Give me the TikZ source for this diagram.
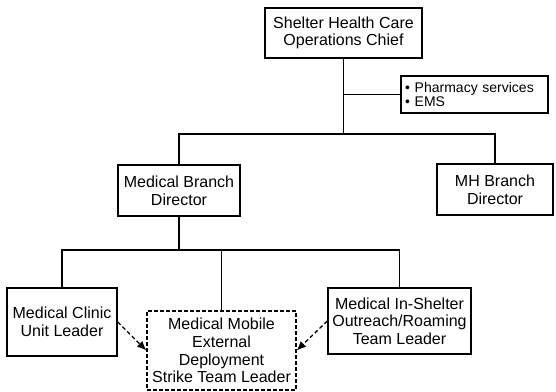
\documentclass[tikz,border=0pt]{standalone}
\usepackage{fontspec}
\setmainfont{Liberation Sans}
\usepackage{tikz}
\usetikzlibrary{positioning,arrows.meta}

\begin{document}
\begin{tikzpicture}[x=0.75pt,y=0.75pt,yscale=-1,xscale=1,
    orgbox/.style={draw,line width=1.1pt,align=center,inner sep=1pt,font=\fontsize{12}{13.2}\selectfont},
    dashbox/.style={orgbox,line width=1pt,dash pattern=on 3pt off 1.5pt},
    link/.style={line width=1.1pt},
    dasharrow/.style={line width=1pt,dash pattern=on 3pt off 2pt,-{Latex[length=7pt,width=6pt]}}]
        \useasboundingbox (0,0) rectangle (556,392); %set diagram to 556 by 392

        %Shape: Rectangle [chief]
        \node [orgbox,minimum width=117.75pt,minimum height=37.5pt] (chief) at (343.5,33) {Shelter Health Care\\Operations Chief};
        %Shape: Rectangle [pharm]
        \node [draw,line width=1.1pt,align=left,text width=104pt,inner xsep=3pt,inner ysep=1pt,minimum height=27.75pt,font=\fontsize{10.5}{11}\selectfont] (pharm) at (474.5,94.5) {• Pharmacy services\\• EMS};

        %Shape: Rectangle [medbr]
        \node [orgbox,minimum width=91.5pt,minimum height=38.25pt] (medbr) at (179,190.5) {Medical Branch\\Director};
        %Shape: Rectangle [mhbr]
        \node [orgbox,minimum width=87pt,minimum height=38.25pt] (mhbr) at (495,189.5) {MH Branch\\Director};

        %Shape: Rectangle [clinic]
        \node [orgbox,minimum width=82.5pt,minimum height=51pt] (clinic) at (62,322) {Medical Clinic\\Unit Leader};
        %Shape: Rectangle [mobile]
        \node [dashbox,minimum width=111.75pt,minimum height=59.25pt] (mobile) at (221.5,350.5) {Medical Mobile\\External\\Deployment\\Strike Team Leader};
        %Shape: Rectangle [outreach]
        \node [orgbox,minimum width=107.25pt,minimum height=49.5pt] (outreach) at (399.5,321) {Medical In-Shelter\\Outreach/Roaming\\Team Leader};

        \coordinate (topbus) at (343.5,134);
        \coordinate (lowbus) at (179,250);

        %Straight Lines
        \draw [link] (chief.south) -- (topbus);
        \draw [link] (chief.south |- pharm.west) -- (pharm.west);
        \draw [link] (medbr.north) |- (topbus) -| (mhbr.north);

        %Straight Lines
        \draw [link] (medbr.south) -- (lowbus);
        \draw [link] (clinic.north) |- (lowbus) -| (outreach.north);
        \draw [link] (mobile.north) -- (mobile.north |- lowbus);

        %Dashed Arrows
        \draw [dasharrow] (clinic.east) -- (mobile.west);
        \draw [dasharrow] (outreach.west) -- (mobile.east);
\end{tikzpicture}
\end{document}
